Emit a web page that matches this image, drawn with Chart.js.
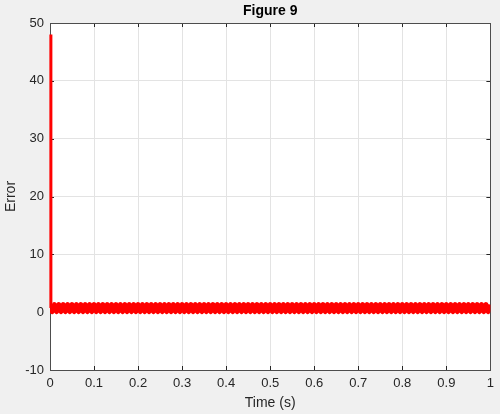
<!DOCTYPE html>
<html><head><meta charset="utf-8">
<script src="https://cdn.jsdelivr.net/npm/chart.js@4/dist/chart.umd.min.js"></script>
<style>html,body{margin:0;padding:0;background:#f0f0f0;}#wrap{width:500px;height:414px;}</style>
</head><body><div id="wrap"><canvas id="c" width="500" height="414"></canvas></div>
<script>
// Initial transient (time s, error)
const timeStart = [0.002, 0.002];
const errorStart = [48, 0.7];
// Oscillating error band after the initial transient (sampled every 0.005 s from 0.005 s)
const errorBand = [
0.1,1.3,0.1,1.3,0.1,1.3,0.1,1.3,0.1,1.3,0.1,1.3,0.1,1.3,0.1,1.3,0.1,1.3,0.1,1.3,
0.1,1.3,0.1,1.3,0.1,1.3,0.1,1.3,0.1,1.3,0.1,1.3,0.1,1.3,0.1,1.3,0.1,1.3,0.1,1.3,
0.1,1.3,0.1,1.3,0.1,1.3,0.1,1.3,0.1,1.3,0.1,1.3,0.1,1.3,0.1,1.3,0.1,1.3,0.1,1.3,
0.1,1.3,0.1,1.3,0.1,1.3,0.1,1.3,0.1,1.3,0.1,1.3,0.1,1.3,0.1,1.3,0.1,1.3,0.1,1.3,
0.1,1.3,0.1,1.3,0.1,1.3,0.1,1.3,0.1,1.3,0.1,1.3,0.1,1.3,0.1,1.3,0.1,1.3,0.1,1.3,
0.1,1.3,0.1,1.3,0.1,1.3,0.1,1.3,0.1,1.3,0.1,1.3,0.1,1.3,0.1,1.3,0.1,1.3,0.1,1.3,
0.1,1.3,0.1,1.3,0.1,1.3,0.1,1.3,0.1,1.3,0.1,1.3,0.1,1.3,0.1,1.3,0.1,1.3,0.1,1.3,
0.1,1.3,0.1,1.3,0.1,1.3,0.1,1.3,0.1,1.3,0.1,1.3,0.1,1.3,0.1,1.3,0.1,1.3,0.1,1.3,
0.1,1.3,0.1,1.3,0.1,1.3,0.1,1.3,0.1,1.3,0.1,1.3,0.1,1.3,0.1,1.3,0.1,1.3,0.1,1.3,
0.1,1.3,0.1,1.3,0.1,1.3,0.1,1.3,0.1,1.3,0.1,1.3,0.1,1.3,0.1,1.3,0.1,1.3,0.1,1.3
];
const bandStep = 0.005;
const xTicks = [0,0.1,0.2,0.3,0.4,0.5,0.6,0.7,0.8,0.9,1];
const yTicks = [-10,0,10,20,30,40,50];
const chartTitle = 'Figure 9';

const startPts = timeStart.map((t,i)=>({x:t,y:errorStart[i]}));
const bandPts = [{x:timeStart[timeStart.length-1],y:errorStart[errorStart.length-1]}];
errorBand.forEach((v,i)=>bandPts.push({x:+(bandStep*(i+1)).toFixed(4),y:v}));

const FONT = '"Liberation Sans", Arial, Helvetica, sans-serif';
const TXT = '#262626';

const bgPlugin = {
  id:'bg',
  beforeDraw(chart){
    const {ctx, chartArea:a} = chart;
    ctx.save();
    ctx.fillStyle='#f0f0f0';
    ctx.fillRect(0,0,chart.width,chart.height);
    ctx.fillStyle='#ffffff';
    ctx.fillRect(a.left,a.top,a.right-a.left,a.bottom-a.top);
    ctx.restore();
  },
  beforeDatasetsDraw(chart){
    const {ctx, chartArea:a, scales} = chart;
    ctx.save();
    ctx.strokeStyle='#262626';
    ctx.lineWidth=1;
    ctx.beginPath();
    xTicks.forEach(t=>{
      const px=Math.round(scales.x.getPixelForValue(t))+0.5;
      ctx.moveTo(px,a.bottom);ctx.lineTo(px,a.bottom-4);
      ctx.moveTo(px,a.top);ctx.lineTo(px,a.top+4);
    });
    yTicks.forEach(t=>{
      const py=Math.round(scales.y.getPixelForValue(t))+0.5;
      ctx.moveTo(a.left,py);ctx.lineTo(a.left+4,py);
      ctx.moveTo(a.right,py);ctx.lineTo(a.right-4,py);
    });
    ctx.stroke();
    ctx.strokeStyle='#4d4d4d';
    ctx.strokeRect(Math.round(a.left)+0.5,Math.round(a.top)+0.5,Math.round(a.right-a.left),Math.round(a.bottom-a.top));
    ctx.fillStyle='#000';
    ctx.font='bold 14px '+FONT;
    ctx.textAlign='center';
    ctx.textBaseline='middle';
    ctx.fillText(chartTitle,(a.left+a.right)/2,a.top-12);
    ctx.restore();
  }
};

new Chart(document.getElementById('c'),{
  type:'line',
  data:{datasets:[
    {data:bandPts,borderColor:'#ff0000',borderWidth:5,pointRadius:0,tension:0,fill:false,borderJoinStyle:'round'},
    {data:startPts,borderColor:'#ff0000',borderWidth:3,pointRadius:0,tension:0,fill:false,clip:false}
  ]},
  options:{
    responsive:false,animation:false,
    layout:{padding:{left:0,right:8,top:23,bottom:0}},
    plugins:{legend:{display:false},tooltip:{enabled:false},title:{display:false}},
    scales:{
      x:{type:'linear',min:0,max:1,
        afterBuildTicks(s){s.ticks=xTicks.map(v=>({value:v}));},
        afterFit(s){s.height=44;},
        grid:{color:'#e3e3e3',drawTicks:false},border:{display:false},
        ticks:{color:TXT,font:{family:FONT,size:13},padding:6,maxRotation:0,callback:v=>String(v)},
        title:{display:true,text:'Time (s)',color:TXT,font:{family:FONT,size:14},padding:{top:0,bottom:2}}
      },
      y:{type:'linear',min:-10,max:50,
        afterBuildTicks(s){s.ticks=yTicks.map(v=>({value:v}));},
        afterFit(s){s.width=50;},
        grid:{color:'#e3e3e3',drawTicks:false},border:{display:false},
        ticks:{color:TXT,font:{family:FONT,size:13},padding:6,callback:v=>String(v)},
        title:{display:true,text:'Error',color:TXT,font:{family:FONT,size:14},padding:{top:3,bottom:2}}
      }
    }
  },
  plugins:[bgPlugin]
});
</script></body></html>
